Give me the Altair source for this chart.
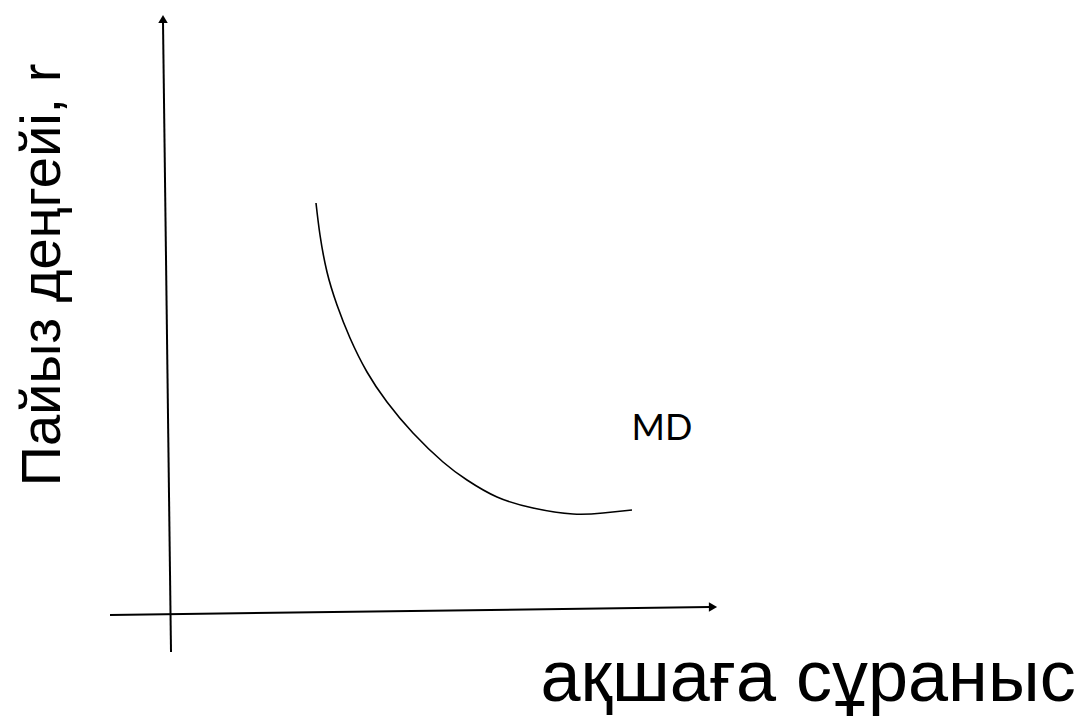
import altair as alt
import pandas as pd

# Drawing coordinates (page-pixel-like units)
curve_x = [316, 320, 327, 337, 350, 367, 387, 413, 443, 467, 497, 533, 573, 603, 632]
curve_y = [203, 235, 272, 305, 338, 372, 402, 433, 462, 480, 497, 508, 514, 513, 510]

axis_x1 = [171, 110]
axis_y1 = [652, 615]
axis_x2 = [163, 710]
axis_y2 = [22, 607]

arrow_x = [163, 713]
arrow_y = [19, 607]
arrow_shape = ["triangle-up", "triangle-right"]

label_text = ["MD"]
label_x = [662]
label_y = [429]

ytitle = "Пайыз деңгейі, r"
xtitle = "ақшаға сұраныс"

X = alt.Scale(domain=[8, 1081], nice=False, zero=False)
Y = alt.Scale(domain=[8, 717], nice=False, zero=False, reverse=True)

curve = pd.DataFrame({"x": curve_x, "y": curve_y})
axes = pd.DataFrame({"x": axis_x1, "y": axis_y1, "x2": axis_x2, "y2": axis_y2})
arrows = pd.DataFrame({"x": arrow_x, "y": arrow_y, "shape": arrow_shape})
labels = pd.DataFrame({"x": label_x, "y": label_y, "t": label_text})
titles_y = pd.DataFrame({"x": [43], "y": [275], "t": [ytitle]})
titles_x = pd.DataFrame({"x": [808], "y": [701], "t": [xtitle]})

axis_layer = alt.Chart(axes).mark_rule(color="black", strokeWidth=2).encode(
    x=alt.X("x:Q", scale=X, axis=None),
    y=alt.Y("y:Q", scale=Y, axis=None),
    x2="x2:Q",
    y2="y2:Q",
)

arrow_layer = alt.Chart(arrows).mark_point(filled=True, color="black", opacity=1, size=90).encode(
    x=alt.X("x:Q", scale=X, axis=None),
    y=alt.Y("y:Q", scale=Y, axis=None),
    shape=alt.Shape("shape:N", scale=None, legend=None),
)

curve_layer = alt.Chart(curve).mark_line(color="black", strokeWidth=1.6, interpolate="natural").encode(
    x=alt.X("x:Q", scale=X, axis=None),
    y=alt.Y("y:Q", scale=Y, axis=None),
)

md_layer = alt.Chart(labels).mark_text(font="Lato", fontSize=36, color="black", baseline="middle", align="center").encode(
    x=alt.X("x:Q", scale=X, axis=None),
    y=alt.Y("y:Q", scale=Y, axis=None),
    text="t:N",
)

yt_layer = alt.Chart(titles_y).mark_text(font="Liberation Sans", fontSize=56, color="black", angle=270,
                                         baseline="middle", align="center").encode(
    x=alt.X("x:Q", scale=X, axis=None),
    y=alt.Y("y:Q", scale=Y, axis=None),
    text="t:N",
)

xt_layer = alt.Chart(titles_x).mark_text(font="Liberation Sans", fontSize=72, color="black",
                                         baseline="alphabetic", align="center").encode(
    x=alt.X("x:Q", scale=X, axis=None),
    y=alt.Y("y:Q", scale=Y, axis=None),
    text="t:N",
)

chart = alt.layer(axis_layer, arrow_layer, curve_layer, md_layer, yt_layer, xt_layer).properties(
    width=1073, height=709,
    autosize=alt.AutoSizeParams(type="none"),
    padding=0,
    background="white",
).configure_view(stroke=None)

chart.save("out.html", embed_options={"renderer": "svg", "actions": False})
